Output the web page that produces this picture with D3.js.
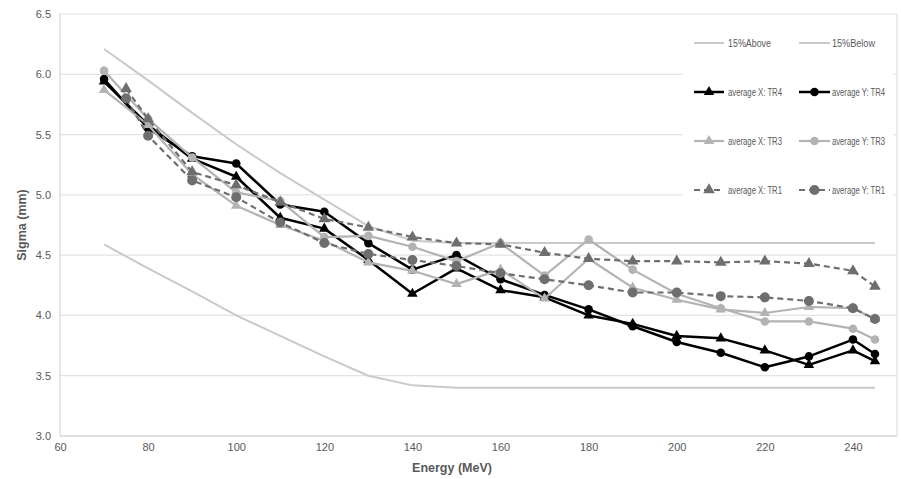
<!DOCTYPE html>
<html><head><meta charset="utf-8">
<script src="https://cdn.jsdelivr.net/npm/d3@7"></script>
<style>body{margin:0;background:#fff}svg{display:block}</style>
</head><body>
<svg id="chart" width="901" height="479"></svg>
<script>
// ---- data ----
const energyMain = [70,80,90,100,110,120,130,140,150,160,170,180,190,200,210,220,230,240,245];
const energyTR1  = [75,80,90,100,110,120,130,140,150,160,170,180,190,200,210,220,230,240,245];
const above15 = [6.21,5.95,5.68,5.42,5.18,4.96,4.74,4.62,4.60,4.60,4.60,4.60,4.60,4.60,4.60,4.60,4.60,4.60,4.60];
const below15 = [4.59,4.39,4.20,4.00,3.83,3.66,3.50,3.42,3.40,3.40,3.40,3.40,3.40,3.40,3.40,3.40,3.40,3.40,3.40];
const avgXTR4 = [5.94,5.58,5.30,5.15,4.81,4.72,4.46,4.18,4.39,4.21,4.15,4.00,3.93,3.83,3.81,3.71,3.59,3.71,3.62];
const avgYTR4 = [5.96,5.55,5.32,5.26,4.92,4.86,4.60,4.38,4.50,4.30,4.17,4.05,3.91,3.78,3.69,3.57,3.66,3.80,3.68];
const avgXTR3 = [5.87,5.58,5.17,4.91,4.75,4.62,4.44,4.37,4.26,4.38,4.14,4.47,4.23,4.13,4.05,4.02,4.07,4.06,3.97];
const avgYTR3 = [6.03,5.63,5.31,5.02,4.95,4.65,4.66,4.57,4.45,4.60,4.33,4.63,4.38,4.18,4.06,3.95,3.95,3.89,3.80];
const avgXTR1 = [5.88,5.63,5.19,5.08,4.94,4.80,4.73,4.65,4.60,4.59,4.52,4.47,4.45,4.45,4.44,4.45,4.43,4.37,4.24];
const avgYTR1 = [5.80,5.49,5.12,4.98,4.77,4.60,4.51,4.46,4.41,4.35,4.30,4.25,4.19,4.19,4.16,4.15,4.12,4.06,3.97];
const yTicks = [3.0,3.5,4.0,4.5,5.0,5.5,6.0,6.5];
const xTicks = [60,80,100,120,140,160,180,200,220,240];
const seriesNames = ["15%Above","15%Below","average X: TR4","average Y: TR4","average X: TR3","average Y: TR3","average X: TR1","average Y: TR1"];

// ---- layout ----
const svg = d3.select("#chart");
const L = 60, R = 897, T = 14, B = 436;
const x = d3.scaleLinear().domain([60,250]).range([L,R]);
const y = d3.scaleLinear().domain([3,6.5]).range([B,T]);
const txt = "#595959";
const font = "'Liberation Sans', Arial, sans-serif";

// gridlines
svg.append("g").selectAll("line").data(yTicks).join("line")
  .attr("x1",L).attr("x2",R).attr("y1",d=>y(d)).attr("y2",d=>y(d))
  .attr("stroke","#e3e3e3").attr("stroke-width",1.2);
// frame
svg.append("line").attr("x1",R).attr("x2",R).attr("y1",T).attr("y2",B).attr("stroke","#d9d9d9");
svg.append("line").attr("x1",L).attr("x2",L).attr("y1",T).attr("y2",B).attr("stroke","#d0d0d0");
svg.append("line").attr("x1",L).attr("x2",R).attr("y1",B).attr("y2",B).attr("stroke","#d0d0d0");

// axes
const yAxis = d3.axisLeft(y).tickValues(yTicks).tickFormat(d3.format(".1f")).tickSize(0).tickPadding(8);
const gy = svg.append("g").attr("transform",`translate(${L-1},0)`).call(yAxis);
gy.select(".domain").remove();
gy.selectAll("text").attr("fill",txt).attr("font-size",11).attr("font-family",font);
const xAxis = d3.axisBottom(x).tickValues(xTicks).tickFormat(d3.format("d")).tickSize(0).tickPadding(7);
const gx = svg.append("g").attr("transform",`translate(0,${B})`).call(xAxis);
gx.select(".domain").remove();
gx.selectAll("text").attr("fill",txt).attr("font-size",11).attr("font-family",font);

svg.append("text").attr("transform","translate(26,225) rotate(-90)").attr("text-anchor","middle")
  .attr("font-family",font).attr("font-size",12.5).attr("font-weight","bold").attr("fill",txt).text("Sigma (mm)");
svg.append("text").attr("x",452).attr("y",472).attr("text-anchor","middle")
  .attr("font-family",font).attr("font-size",12.5).attr("font-weight","bold").attr("fill",txt).text("Energy (MeV)");

// series definitions
const series = [
  {name:seriesNames[0], xs:energyMain, ys:above15, color:"#c9c9c9", w:2, dash:null, marker:null},
  {name:seriesNames[1], xs:energyMain, ys:below15, color:"#c9c9c9", w:2, dash:null, marker:null},
  {name:seriesNames[2], xs:energyMain, ys:avgXTR4, color:"#000000", w:2.5, dash:null, marker:"tri"},
  {name:seriesNames[3], xs:energyMain, ys:avgYTR4, color:"#000000", w:2.5, dash:null, marker:"circ"},
  {name:seriesNames[4], xs:energyMain, ys:avgXTR3, color:"#b3b3b3", w:2.2, dash:null, marker:"tri"},
  {name:seriesNames[5], xs:energyMain, ys:avgYTR3, color:"#b3b3b3", w:2.2, dash:null, marker:"circ"},
  {name:seriesNames[6], xs:energyTR1, ys:avgXTR1, color:"#6e6e6e", w:2.2, dash:"6,4", marker:"tri"},
  {name:seriesNames[7], xs:energyTR1, ys:avgYTR1, color:"#6e6e6e", w:2.2, dash:"6,4", marker:"circ"}
];

const line = d3.line().x(d=>x(d[0])).y(d=>y(d[1]));
const triSym = d3.symbol().type(d3.symbolTriangle);
function drawMarker(g, type, color, cx, cy, big){
  if(type==="tri"){
    g.append("path").attr("d",triSym.size(big?58:48)()).attr("transform",`translate(${cx},${cy})`).attr("fill",color);
  } else if(type==="circ"){
    g.append("circle").attr("cx",cx).attr("cy",cy).attr("r",big?5:4.3).attr("fill",color);
  }
}

series.forEach(s=>{
  const pts = s.xs.map((e,i)=>[e,s.ys[i]]);
  const g = svg.append("g");
  g.append("path").datum(pts).attr("d",line).attr("fill","none")
    .attr("stroke",s.color).attr("stroke-width",s.w).attr("stroke-dasharray",s.dash)
    .attr("stroke-linejoin","round");
  if(s.marker) pts.forEach(p=>drawMarker(g,s.marker,s.color,x(p[0]),y(p[1]),s.color==="#6e6e6e"));
});

// legend
const lg = svg.append("g");
lg.append("rect").attr("x",683).attr("y",22).attr("width",210).attr("height",186).attr("fill","#fff");
const rowsY = [43,92,141,190];
series.forEach((s,i)=>{
  const col = i%2, row = Math.floor(i/2);
  const lx1 = col? 799:694, lx2 = col? 830:724, tx = col? 832:728;
  const ly = rowsY[row];
  lg.append("line").attr("x1",lx1).attr("x2",lx2).attr("y1",ly).attr("y2",ly)
    .attr("stroke",s.color).attr("stroke-width",s.w).attr("stroke-dasharray",s.dash);
  if(s.marker) drawMarker(lg,s.marker,s.color,(lx1+lx2)/2,ly,s.color==="#6e6e6e");
  const t = lg.append("text").attr("x",tx).attr("y",ly+3.5).attr("font-family",font)
    .attr("font-size",10).attr("fill",txt).text(s.name);
  const tl = s.name.startsWith("15%") ? 43 : (col? 53 : 54);
  t.attr("textLength",tl).attr("lengthAdjust","spacingAndGlyphs");
});
</script>
</body></html>
